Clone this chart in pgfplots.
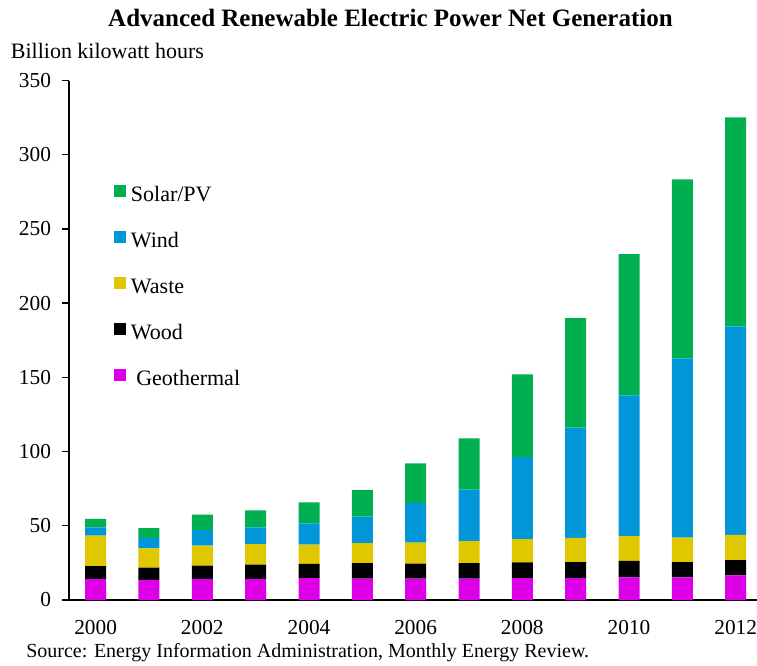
\documentclass[border=0pt]{standalone}
\usepackage{fontspec}
\setmainfont{Liberation Serif}
\usepackage{pgfplots}
\usepackage{pgfplotstable}
\pgfplotsset{compat=1.18}
\definecolor{cgeo}{RGB}{221,0,230}
\definecolor{cwood}{RGB}{0,0,0}
\definecolor{cwaste}{RGB}{224,200,0}
\definecolor{cwind}{RGB}{0,150,216}
\definecolor{csolar}{RGB}{0,176,80}
\pgfplotstableread{
year geo wood waste wind solar
2000 14.2 8.7 20.4 5.7 5.6
2001 13.5 8.3 13.0 7.0 6.7
2002 14.2 8.9 13.5 10.4 10.5
2003 14.2 9.6 13.9 11.3 11.4
2004 14.8 9.5 13.0 14.4 14.1
2005 14.4 10.5 13.5 17.7 18.0
2006 14.4 10.1 14.1 26.8 26.7
2007 14.4 10.5 14.8 34.6 34.6
2008 14.8 10.6 15.7 55.2 55.7
2009 14.8 10.8 16.2 74.3 73.9
2010 15.3 11.0 16.8 94.8 95.2
2011 15.3 10.3 16.4 120.8 120.6
2012 16.6 10.3 16.9 140.6 140.8
}\datatable
\begin{document}
\begin{tikzpicture}
\useasboundingbox (-51.75pt,-48.75pt) rectangle (516pt,450pt);
\begin{axis}[
  at={(0pt,0pt)}, anchor=south west,
  scale only axis,
  width=516pt, height=389.6pt,
  ybar stacked, bar width=15.75pt,
  xmin=1999.5, xmax=2012.4,
  ymin=0, ymax=350,
  xtick={2000,2002,...,2012},
  ytick={0,50,...,350},
  axis x line*=bottom, axis y line*=left,
  axis line style={line width=1.3pt},
  x tick style={draw=none},
  y tick style={line width=1pt, black},
  tick align=outside, major tick length=5pt,
  /pgf/number format/assume math mode=true,
  /pgf/number format/1000 sep={},
  tick label style={font=\fontsize{16}{18}\selectfont},
  xticklabel style={yshift=-7pt},
  yticklabel style={xshift=-5pt},
  legend style={at={(0.0654,0.800)}, anchor=north west, draw=none, fill=none,
    font=\fontsize{16.5}{18}\selectfont, inner sep=0pt,
    row sep=18.5pt,
    nodes={inner sep=0pt, text height=11pt, text depth=3.5pt},
    /tikz/every odd column/.append style={column sep=3.5pt}},
  legend cell align=left,
  reverse legend,
  legend image code/.code={\fill[#1] (0pt,-0.2pt) rectangle (9pt,8.8pt);},
]
\addplot[fill=cgeo, draw=none] table[x=year, y=geo] {\datatable};
\addlegendentry{\hspace{4pt}Geothermal}
\addplot[fill=cwood, draw=none] table[x=year, y=wood] {\datatable};
\addlegendentry{Wood}
\addplot[fill=cwaste, draw=none] table[x=year, y=waste] {\datatable};
\addlegendentry{Waste}
\addplot[fill=cwind, draw=none] table[x=year, y=wind] {\datatable};
\addlegendentry{Wind}
\addplot[fill=csolar, draw=none] table[x=year, y=solar] {\datatable};
\addlegendentry{Solar/PV}
\end{axis}
\node[anchor=base, font=\fontsize{18.75}{20}\selectfont\bfseries] at (241.1pt,430pt) {Advanced Renewable Electric Power Net Generation};
\node[anchor=base west, inner sep=0pt, font=\fontsize{16.5}{18}\selectfont] at (-43.8pt,406.3pt) {Billion kilowatt hours};
\node[anchor=base west, inner sep=0pt, font=\fontsize{15}{17}\selectfont] at (-32.25pt,-42.75pt) {Source: Energy Information Administration, Monthly Energy Review.};
\end{tikzpicture}
\end{document}
